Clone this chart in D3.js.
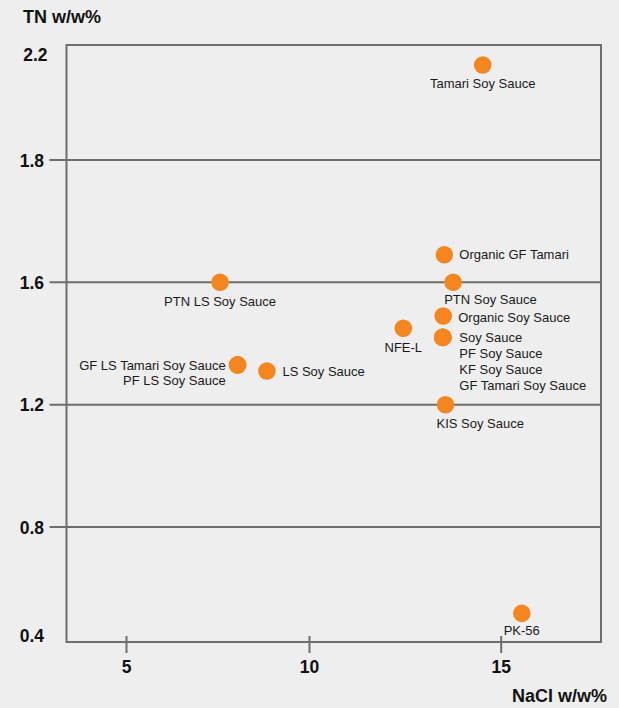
<!DOCTYPE html>
<html>
<head>
<meta charset="utf-8">
<script src="https://cdn.jsdelivr.net/npm/d3@7"></script>
<style>
  html, body { margin: 0; padding: 0; background: #eeeeee; }
  svg { display: block; font-family: "Liberation Sans", Arial, sans-serif; }
</style>
</head>
<body>
<div id="chart"></div>
<script>
// ---- data ----
const products = [
  "Tamari Soy Sauce", "Organic GF Tamari", "PTN Soy Sauce", "Organic Soy Sauce",
  "Soy Sauce", "PF Soy Sauce", "KF Soy Sauce", "GF Tamari Soy Sauce",
  "NFE-L", "KIS Soy Sauce", "PTN LS Soy Sauce", "GF LS Tamari Soy Sauce",
  "PF LS Soy Sauce", "LS Soy Sauce", "PK-56"
];
const nacl = [14.53, 13.53, 13.76, 13.50, 13.49, 13.49, 13.49, 13.49, 12.46, 13.56, 7.57, 8.05, 8.05, 8.85, 15.55];
const tn   = [2.16, 1.645, 1.60, 1.49, 1.42, 1.42, 1.42, 1.42, 1.45, 1.20, 1.60, 1.33, 1.33, 1.31, 0.48];

const yTickValues = [0.4, 0.8, 1.2, 1.6, 1.8, 2.2];
const yGridValues = [0.8, 1.2, 1.6, 1.8];
const xTickValues = [5, 10, 15];
const xTitle = "NaCl w/w%";
const yTitle = "TN w/w%";

// ---- layout (label placement relative to each point) ----
const labelPlacement = [
  {anchor: "middle", dx: 0,   dy: 18},
  {anchor: "start",  dx: 15,  dy: 0},
  {anchor: "start",  dx: -9,  dy: 17},
  {anchor: "start",  dx: 15,  dy: 1},
  {anchor: "start",  dx: 16.5, dy: 0},
  {anchor: "start",  dx: 16.5, dy: 16},
  {anchor: "start",  dx: 16.5, dy: 31.5},
  {anchor: "start",  dx: 16.5, dy: 47.5},
  {anchor: "middle", dx: 0,   dy: 19},
  {anchor: "start",  dx: -9,  dy: 18.5},
  {anchor: "middle", dx: 0,   dy: 18.5},
  {anchor: "end",    dx: -12, dy: 0.5},
  {anchor: "end",    dx: -12, dy: 15.5},
  {anchor: "start",  dx: 15.5, dy: 0.5},
  {anchor: "middle", dx: 0,   dy: 17}
];

const W = 619, H = 708;
const margin = {left: 66.5, top: 45, right: 18, bottom: 66};
const pw = W - margin.left - margin.right;
const ph = H - margin.top - margin.bottom;
const lineColor = "#6e6e6e";
const dotColor = "#f5861f";

const svg = d3.select("#chart").append("svg")
  .attr("width", W).attr("height", H);
svg.append("rect").attr("width", W).attr("height", H).attr("fill", "#eeeeee");

const g = svg.append("g").attr("transform", `translate(${margin.left},${margin.top})`);

// piecewise scales matching the original chart's (non-uniform) axes
const x = d3.scaleLinear().domain(xTickValues).range([59.5, 242.5, 434.2]);
const y = d3.scaleLinear().domain(yTickValues).range([590, 482, 359.7, 237.3, 115, 9.5]);

// gridlines
g.selectAll("line.grid").data(yGridValues).enter().append("line")
  .attr("class", "grid")
  .attr("x1", -17).attr("x2", pw)
  .attr("y1", d => y(d)).attr("y2", d => y(d))
  .attr("stroke", lineColor).attr("stroke-width", 2);

// frame
g.append("rect").attr("x", 0).attr("y", 0).attr("width", pw).attr("height", ph)
  .attr("fill", "none").attr("stroke", lineColor).attr("stroke-width", 2);

// y axis labels
g.selectAll("text.ytick").data(yTickValues).enter().append("text")
  .attr("class", "ytick")
  .attr("x", d => d === 2.2 ? -19 : -22.5).attr("y", d => y(d) + 6.5)
  .attr("text-anchor", "end")
  .attr("font-size", 17.5).attr("font-weight", "bold").attr("fill", "#111")
  .text(d => d3.format(".1f")(d));

// x axis ticks and labels
const xAxis = d3.axisBottom(x).tickValues(xTickValues).tickSize(0).tickFormat(d3.format("d"));
const xg = g.append("g").attr("transform", `translate(0,${ph})`).call(xAxis);
xg.select(".domain").remove();
xg.selectAll(".tick").append("line")
  .attr("y1", -6).attr("y2", 11)
  .attr("stroke", lineColor).attr("stroke-width", 2);
xg.selectAll(".tick text")
  .attr("y", 31).attr("dy", 0)
  .attr("font-size", 17.5).attr("font-weight", "bold").attr("fill", "#111")
  .attr("font-family", "Liberation Sans, Arial, sans-serif");

// axis titles
svg.append("text").attr("x", 23).attr("y", 23.3)
  .attr("font-size", 18).attr("font-weight", "bold").attr("fill", "#111")
  .text(yTitle);
svg.append("text").attr("x", 607).attr("y", 701.7).attr("text-anchor", "end")
  .attr("font-size", 18).attr("font-weight", "bold").attr("fill", "#111")
  .text(xTitle);

// points
const pts = products.map((p, i) => ({name: p, x: nacl[i], y: tn[i], lp: labelPlacement[i]}));
g.selectAll("circle.pt").data(pts).enter().append("circle")
  .attr("class", "pt")
  .attr("cx", d => x(d.x)).attr("cy", d => y(d.y)).attr("r", 8.8)
  .attr("fill", dotColor);

g.selectAll("text.lbl").data(pts).enter().append("text")
  .attr("class", "lbl")
  .attr("x", d => x(d.x) + d.lp.dx)
  .attr("y", d => y(d.y) + d.lp.dy + 4.7)
  .attr("text-anchor", d => d.lp.anchor)
  .attr("font-size", 13).attr("fill", "#1a1a1a")
  .text(d => d.name);
</script>
</body>
</html>
